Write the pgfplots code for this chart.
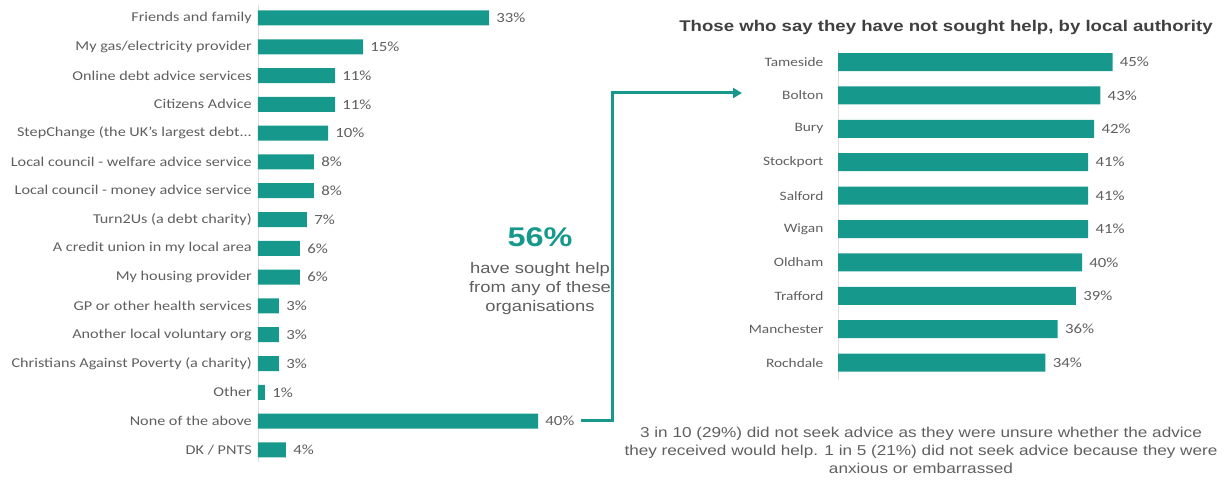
\documentclass[border=0pt]{standalone}
\usepackage{pgfplots}
\pgfplotsset{compat=1.18}
\usepackage{fontspec}
\setmainfont{Carlito}
\newfontfamily\arial{Liberation Sans}
\usetikzlibrary{arrows.meta}
\definecolor{teal1}{RGB}{22,152,140}
\definecolor{lab}{RGB}{95,95,95}
\definecolor{ttl}{RGB}{64,64,64}
\begin{document}
\begin{tikzpicture}[x=1pt,y=1pt]
\path[use as bounding box] (0,0) rectangle (1229,485);
% left chart
\begin{axis}[
  at={(258pt,480pt)}, anchor=north west,
  scale only axis, width=336pt, height=457pt,
  xmin=0, xmax=48, ymin=-0.45, ymax=15.42, y dir=reverse,
  xbar, bar width=15pt,
  hide x axis, axis y line*=left,
  y axis line style={draw=gray!25, line width=0.8pt},
  ytick={0,1,2,3,4,5,6,7,8,9,10,11,12,13,14,15}, major tick length=0pt,
  yticklabels={Friends and family, My gas/electricity provider, Online debt advice services, Citizens Advice, {StepChange (the UK's largest debt.{}.{}.}, Local council - welfare advice service, Local council - money advice service, Turn2Us (a debt charity), A credit union in my local area, My housing provider, GP or other health services, Another local voluntary org, Christians Against Poverty (a charity), Other, None of the above, DK / PNTS},
  yticklabel style={font=\fontsize{13.5}{14}\selectfont, text=lab, xscale=1.2, inner xsep=5pt},
  nodes near coords={\pgfmathprintnumber[assume math mode=true]{\pgfplotspointmeta}\%},
  nodes near coords style={font=\fontsize{14}{15}\selectfont, text=lab, xscale=1.2, inner xsep=6pt},
  point meta=x,
]
\addplot[fill=teal1, draw=none] coordinates {
(33,0) (15,1) (11,2) (11,3) (10,4) (8,5) (8,6) (7,7) (6,8) (6,9) (3,10) (3,11) (3,12) (1,13) (40,14) (4,15)};
\end{axis}
% right chart
\begin{axis}[
  at={(838pt,435pt)}, anchor=north west,
  scale only axis, width=335.5pt, height=330pt,
  xmin=0, xmax=55, ymin=-0.36, ymax=9.52, y dir=reverse,
  xbar, bar width=18pt,
  hide x axis, axis y line*=left,
  y axis line style={draw=gray!25, line width=0.8pt},
  ytick={0,1,2,3,4,5,6,7,8,9}, major tick length=0pt,
  yticklabels={Tameside, Bolton, Bury, Stockport, Salford, Wigan, Oldham, Trafford, Manchester, Rochdale},
  yticklabel style={font=\fontsize{12.8}{13}\selectfont, text=lab, xscale=1.2, inner xsep=12pt},
  nodes near coords={\pgfmathprintnumber[assume math mode=true]{\pgfplotspointmeta}\%},
  nodes near coords style={font=\fontsize{14}{15}\selectfont, text=lab, xscale=1.2, inner xsep=6pt},
  point meta=x,
]
\addplot[fill=teal1, draw=none] coordinates {
(45,0) (43,1) (42,2) (41,3) (41,4) (41,5) (40,6) (39,7) (36,8) (34,9)};
\end{axis}
% title
\node[font=\arial\bfseries\fontsize{15.5}{17}\selectfont, text=ttl, xscale=1.2] at (946,457) {Those who say they have not sought help, by local authority};
% middle text
\node[font=\arial\bfseries\fontsize{27}{28}\selectfont, text=teal1, xscale=1.2] at (540,248) {56\%};
\node[font=\arial\fontsize{15.3}{19}\selectfont, text=lab, xscale=1.2, align=center] at (540,196) {have sought help\\from any of these\\organisations};
% arrow
\draw[teal1, line width=3pt, -{Triangle[length=9pt,width=10pt]}] (581,65) -- (612.5,65) -- (612.5,392) -- (742,392);
% bottom text
\node[font=\arial\fontsize{14.3}{18}\selectfont, text=lab, xscale=1.2, align=center] at (921,35) {3 in 10 (29\%) did not seek advice as they were unsure whether the advice\\they received would help. 1 in 5 (21\%) did not seek advice because they were\\anxious or embarrassed};
\end{tikzpicture}
\end{document}
